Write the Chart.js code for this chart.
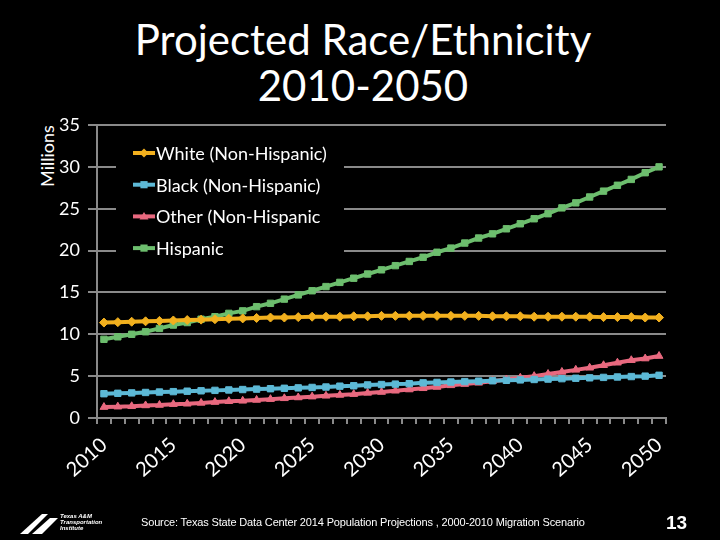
<!DOCTYPE html>
<html>
<head>
<meta charset="utf-8">
<script src="https://cdn.jsdelivr.net/npm/chart.js@4.4.1/dist/chart.umd.min.js"></script>
<style>
  html, body { margin: 0; padding: 0; background: #000; }
  #wrap { position: relative; width: 720px; height: 540px; overflow: hidden; background: #000; }
  #chart { position: absolute; left: 0; top: 0; }
  .title { position: absolute; left: 0; width: 726px; text-align: center; color: #fff;
           font-family: Lato, "Open Sans", sans-serif; font-weight: 400; font-size: 42px; line-height: 46px; top: 16px; }
  .ylab { position: absolute; left: 7px; top: 145px; color: #fff; font-family: Lato, sans-serif;
          font-size: 18px; transform: rotate(-90deg); transform-origin: center; width: 80px; text-align: center; }
  .source { position: absolute; left: 141px; top: 516px; color: #fff; font-family: "Liberation Sans", Arial, sans-serif;
            font-size: 11px; letter-spacing: -0.15px; }
  .page { position: absolute; left: 666px; top: 512px; color: #fff; font-family: "Liberation Sans", Arial, sans-serif;
          font-size: 19px; font-weight: bold; }
  .logo { position: absolute; left: 20px; top: 512px; }
  .logo-text { position: absolute; left: 60px; top: 513px; color: #fff; font-family: "Liberation Sans", Arial, sans-serif;
               font-size: 6px; line-height: 6px; font-style: italic; font-weight: bold; }
</style>
</head>
<body>
<div id="wrap">
  <div class="title">Projected Race/Ethnicity<br>2010-2050</div>
  <div class="ylab">Millions</div>
  <canvas id="chart" width="720" height="540"></canvas>
  <svg class="logo" width="40" height="22" viewBox="0 0 40 22">
    <polygon points="0,22 22,2 28,2 8,22" fill="#fff"/>
    <polygon points="12,22 30,6 38,6 22,22" fill="#fff"/>
  </svg>
  <div class="logo-text">Texas A&amp;M<br>Transportation<br>Institute</div>
  <div class="source">Source: Texas State Data Center 2014 Population Projections , 2000-2010 Migration Scenario</div>
  <div class="page">13</div>
</div>
<script>
const years = [];
for (let y = 2010; y <= 2050; y++) years.push(String(y));

const white = [11.4, 11.45, 11.5, 11.55, 11.6, 11.65, 11.7, 11.75, 11.8, 11.85,
               11.9, 11.95, 12.0, 12.0, 12.05, 12.1, 12.1, 12.1, 12.15, 12.15,
               12.2, 12.2, 12.2, 12.2, 12.2, 12.2, 12.2, 12.2, 12.15, 12.15,
               12.15, 12.1, 12.1, 12.1, 12.1, 12.1, 12.05, 12.05, 12.05, 12.0, 12.0];
const black = [2.9, 2.95, 3.0, 3.05, 3.1, 3.15, 3.2, 3.25, 3.3, 3.35,
               3.4, 3.45, 3.5, 3.55, 3.6, 3.65, 3.7, 3.8, 3.85, 3.95,
               4.0, 4.05, 4.1, 4.2, 4.25, 4.3, 4.35, 4.4, 4.45, 4.5,
               4.55, 4.6, 4.65, 4.7, 4.75, 4.8, 4.85, 4.9, 4.95, 5.0, 5.1];
const other = [1.3, 1.35, 1.4, 1.5, 1.55, 1.65, 1.7, 1.8, 1.9, 2.0,
               2.05, 2.15, 2.25, 2.35, 2.45, 2.55, 2.65, 2.75, 2.85, 3.0,
               3.1, 3.25, 3.4, 3.55, 3.7, 3.9, 4.05, 4.2, 4.4, 4.6,
               4.8, 5.0, 5.25, 5.5, 5.75, 6.0, 6.3, 6.6, 6.9, 7.1, 7.4];
const hispanic = [9.4, 9.7, 10.0, 10.3, 10.7, 11.1, 11.4, 11.8, 12.1, 12.5,
                  12.8, 13.3, 13.7, 14.2, 14.7, 15.2, 15.7, 16.2, 16.7, 17.2,
                  17.7, 18.2, 18.7, 19.2, 19.8, 20.3, 20.9, 21.5, 22.0, 22.6,
                  23.2, 23.8, 24.4, 25.1, 25.7, 26.4, 27.1, 27.8, 28.5, 29.3, 30.0];

const seriesNames = ['White (Non-Hispanic)', 'Black (Non-Hispanic)', 'Other (Non-Hispanic', 'Hispanic'];
const seriesColors = ['#F2B01E', '#5DB9D6', '#E8697F', '#6DBE6E'];
const seriesMarkers = ['rectRot', 'rect', 'triangle', 'rect'];

function makeDataset(i, values) {
    return {
        label: seriesNames[i],
        data: values,
        borderColor: seriesColors[i],
        backgroundColor: seriesColors[i],
        borderWidth: 4,
        pointStyle: seriesMarkers[i],
        pointRadius: 4.5,
        pointBorderWidth: 1,
        tension: 0
    };
}

// legend drawn inside the plot, like the original
const insideLegend = {
    id: 'insideLegend',
    afterDraw(chart) {
        const ctx = chart.ctx;
        ctx.save();
        ctx.fillStyle = '#000';
        ctx.fillRect(116, 138, 228, 124);
        chart.data.datasets.forEach((ds, i) => {
            const y = 153 + i * 31.7;
            ctx.strokeStyle = ds.borderColor;
            ctx.lineWidth = 4;
            ctx.beginPath();
            ctx.moveTo(133, y);
            ctx.lineTo(155, y);
            ctx.stroke();
            ctx.fillStyle = ds.borderColor;
            const cx = 144, r = 4.5;
            ctx.beginPath();
            if (ds.pointStyle === 'rectRot') {
                ctx.moveTo(cx, y - r); ctx.lineTo(cx + r, y); ctx.lineTo(cx, y + r); ctx.lineTo(cx - r, y);
            } else if (ds.pointStyle === 'triangle') {
                ctx.moveTo(cx, y - r); ctx.lineTo(cx + r, y + r * 0.7); ctx.lineTo(cx - r, y + r * 0.7);
            } else {
                ctx.rect(cx - r * 0.8, y - r * 0.8, r * 1.6, r * 1.6);
            }
            ctx.closePath();
            ctx.fill();
            ctx.fillStyle = '#fff';
            ctx.font = '18px Lato, sans-serif';
            ctx.textBaseline = 'middle';
            ctx.fillText(ds.label, 156, y + 1);
        });
        ctx.restore();
    }
};

const ctx = document.getElementById('chart');
new Chart(ctx, {
    type: 'line',
    data: {
        labels: years,
        datasets: [
            makeDataset(0, white),
            makeDataset(1, black),
            makeDataset(2, other),
            makeDataset(3, hispanic)
        ]
    },
    options: {
        responsive: false,
        animation: false,
        layout: { padding: { left: 47, right: 54, top: 125, bottom: 42 } },
        plugins: {
            legend: { display: false },
            tooltip: { enabled: false }
        },
        scales: {
            x: {
                offset: true,
                afterFit: function (scale) { scale.height = 80; },
                grid: {
                    offset: true,
                    drawOnChartArea: false,
                    drawTicks: true,
                    tickLength: 6,
                    color: '#8a8a8a',
                    lineWidth: 2
                },
                border: { color: '#8a8a8a', width: 2 },
                ticks: {
                    autoSkip: false,
                    maxRotation: 42,
                    minRotation: 42,
                    color: '#fff',
                    font: { family: 'Lato, sans-serif', size: 20 },
                    padding: 9,
                    callback: function (val, idx) {
                        const y = years[idx];
                        return Number(y) % 5 === 0 ? y : '';
                    }
                }
            },
            y: {
                min: 0,
                max: 35,
                afterFit: function (scale) { scale.width = 50; },
                grid: {
                    color: '#8a8a8a',
                    lineWidth: 2,
                    tickLength: 9
                },
                border: { color: '#8a8a8a', width: 2 },
                ticks: {
                    stepSize: 5,
                    color: '#fff',
                    font: { family: 'Lato, sans-serif', size: 18 },
                    padding: 8
                }
            }
        }
    },
    plugins: [insideLegend]
});
</script>
</body>
</html>
